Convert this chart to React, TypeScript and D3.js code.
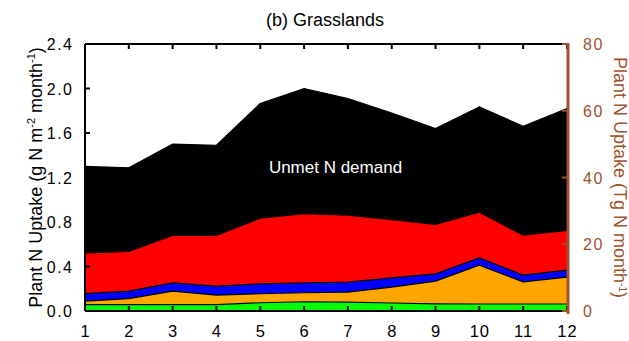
import React from "react";
import * as d3 from "d3";

// Monthly plant N uptake for grasslands, cumulative layer tops (g N m-2 month-1)
const months = [1, 2, 3, 4, 5, 6, 7, 8, 9, 10, 11, 12];
const greenTop = [0.058, 0.058, 0.058, 0.058, 0.074, 0.083, 0.08, 0.072, 0.064, 0.063, 0.063, 0.063];
const orangeTop = [0.088, 0.112, 0.178, 0.142, 0.155, 0.164, 0.169, 0.214, 0.268, 0.412, 0.262, 0.304];
const blueTop = [0.157, 0.178, 0.253, 0.223, 0.244, 0.253, 0.259, 0.298, 0.334, 0.478, 0.322, 0.367];
const redTop = [0.523, 0.535, 0.679, 0.679, 0.834, 0.876, 0.861, 0.82, 0.778, 0.888, 0.681, 0.724];
const demandTop = [1.3, 1.287, 1.5, 1.49, 1.865, 2.0, 1.91, 1.78, 1.64, 1.835, 1.66, 1.82];

const leftTicks = [0, 0.4, 0.8, 1.2, 1.6, 2.0, 2.4];
const rightTicks = [0, 20, 40, 60, 80];

const W = 629;
const H = 341;
const M = { left: 85, right: 567, top: 44, bottom: 311 };
const BROWN = "#a0522d";
const FONT = "'Liberation Sans', Arial, Helvetica, sans-serif";
const TICK_FS = 16;
const TICK_LS = 1.5;

export default function App() {
  const x = d3.scaleLinear().domain([1, 12]).range([M.left, M.right]);
  const y = d3.scaleLinear().domain([0, 2.4]).range([M.bottom, M.top]);
  const yR = d3.scaleLinear().domain([0, 80]).range([M.bottom, M.top]);

  const layers = [
    { top: demandTop, bottom: redTop, fill: "#000000" },
    { top: redTop, bottom: blueTop, fill: "#ff0000" },
    { top: blueTop, bottom: orangeTop, fill: "#0000ff" },
    { top: orangeTop, bottom: greenTop, fill: "#ffa500" },
    { top: greenTop, bottom: months.map(() => 0), fill: "#00ff00" },
  ];

  const area = (top: number[], bottom: number[]) =>
    d3
      .area<number>()
      .x((_, i) => x(months[i]))
      .y0((_, i) => y(bottom[i]))
      .y1((_, i) => y(top[i]))(top) as string;

  const line = (vals: number[]) =>
    d3
      .line<number>()
      .x((_, i) => x(months[i]))
      .y((v) => y(v))(vals) as string;

  return (
    <svg width={W} height={H} style={{ position: "absolute", left: 0, top: 0, background: "#fff" }} fontFamily={FONT}>
      <text x={325} y={26} textAnchor="middle" fontSize={18} fill="#000">
        (b) Grasslands
      </text>

      {layers.map((l, i) => (
        <path key={i} d={area(l.top, l.bottom)} fill={l.fill} stroke="none" />
      ))}
      {[demandTop, redTop, blueTop, orangeTop, greenTop].map((v, i) => (
        <path key={i} d={line(v)} fill="none" stroke="#000" strokeWidth={1.2} />
      ))}

      <text x={335.5} y={173} textAnchor="middle" fontSize={17} fill="#fff">
        Unmet N demand
      </text>

      {/* frame */}
      <line x1={M.left} x2={M.right} y1={M.top} y2={M.top} stroke="#000" strokeWidth={2} />
      <line x1={M.left} x2={M.right} y1={M.bottom} y2={M.bottom} stroke="#000" strokeWidth={2} />
      <line x1={M.left} x2={M.left} y1={M.top} y2={M.bottom} stroke="#000" strokeWidth={2} />

      {/* month ticks, top and bottom */}
      {months.map((m) => (
        <g key={m}>
          <line x1={x(m)} x2={x(m)} y1={M.top} y2={M.top + 5} stroke="#000" strokeWidth={2} />
          <line x1={x(m)} x2={x(m)} y1={M.bottom} y2={M.bottom - 5} stroke="#000" strokeWidth={2} />
          <text x={x(m) + 0.5} y={337} textAnchor="middle" fontSize={TICK_FS + 0.5} letterSpacing={1} fill="#000">
            {m}
          </text>
        </g>
      ))}

      {/* left axis */}
      {leftTicks.map((t) => (
        <g key={t}>
          <line x1={M.left} x2={M.left + 5} y1={y(t)} y2={y(t)} stroke="#000" strokeWidth={2} />
          <text x={72 + TICK_LS} y={y(t) + 6} textAnchor="end" fontSize={TICK_FS} letterSpacing={TICK_LS} fill="#000">
            {t.toFixed(1)}
          </text>
        </g>
      ))}
      <text
        transform={`translate(42,${(M.top + M.bottom) / 2}) rotate(-90)`}
        textAnchor="middle"
        fontSize={18}
        fill="#000"
      >
        Plant N Uptake (g N m
        <tspan fontSize={11} dy={-7}>-2</tspan>
        <tspan dy={7}> month</tspan>
        <tspan fontSize={11} dy={-7}>-1</tspan>
        <tspan dy={7}>)</tspan>
      </text>

      {/* right axis */}
      <line x1={M.right + 1} x2={M.right + 1} y1={M.top - 1} y2={M.bottom + 3} stroke={BROWN} strokeWidth={3} />
      {rightTicks.map((t) => (
        <g key={t}>
          <line x1={M.right} x2={M.right - 5} y1={yR(t)} y2={yR(t)} stroke={BROWN} strokeWidth={2} />
          <text x={583} y={yR(t) + 6} textAnchor="start" fontSize={TICK_FS} letterSpacing={TICK_LS} fill={BROWN}>
            {t}
          </text>
        </g>
      ))}
      <text
        transform={`translate(614,${(M.top + M.bottom) / 2}) rotate(90)`}
        textAnchor="middle"
        fontSize={18}
        fill={BROWN}
      >
        Plant N Uptake (Tg N month
        <tspan fontSize={10} dy={-5}>-1</tspan>
        <tspan dy={5}>)</tspan>
      </text>
    </svg>
  );
}
